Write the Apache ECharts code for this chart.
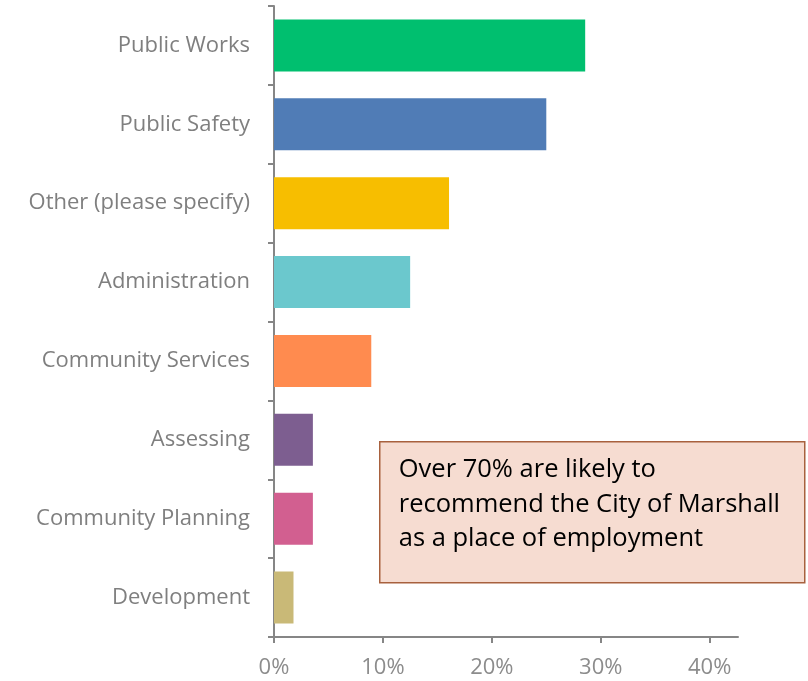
<!DOCTYPE html>
<html><head><meta charset="utf-8">
<script src="https://cdn.jsdelivr.net/npm/echarts@6/dist/echarts.min.js"></script>
<style>html,body{margin:0;padding:0;background:#fff}#c{width:808px;height:681px}</style>
</head><body><div id="c"></div>
<script>
const categories = ["Public Works","Public Safety","Other (please specify)","Administration","Community Services","Assessing","Community Planning","Development"];
const values = [28.57, 25.0, 16.07, 12.5, 8.93, 3.57, 3.57, 1.79];
const colors = ["#00BF6F","#507CB6","#F7BE00","#6BC8CD","#FF8B4F","#7D5E90","#D25F90","#C9B977"];
const xTicks = [0,10,20,30,40];
const note = "Over 70% are likely to\nrecommend the City of Marshall\nas a place of employment";

const chart = echarts.init(document.getElementById('c'));
const axisColor = '#868686';
const font = '"Open Sans", sans-serif';
chart.setOption({
  animation:false,
  grid:{left:274, top:6, right:70, bottom:44},
  xAxis:{type:'value', min:0, max:42.6, interval:10,
    axisLine:{show:true, lineStyle:{color:axisColor, width:2}},
    axisTick:{show:true, length:6, lineStyle:{color:axisColor, width:2}, customValues:xTicks},
    axisLabel:{customValues:xTicks, formatter:v=>v+'%', color:'#8c8c8c', fontSize:22, fontFamily:font, margin:20},
    splitLine:{show:false}},
  yAxis:{type:'category', inverse:true, data:categories,
    axisLine:{show:true, lineStyle:{color:axisColor, width:2}},
    axisTick:{show:true, length:6, lineStyle:{color:axisColor, width:2}},
    axisLabel:{color:'#7f7f7f', fontSize:22, fontFamily:font, margin:24}},
  series:[{type:'bar', barCategoryGap:'34%',
    data:values.map((v,i)=>({value:v, itemStyle:{color:colors[i]}}))}],
  graphic:[{type:'group', left:379, top:441, children:[
    {type:'rect', shape:{x:0,y:0,width:425,height:141}, style:{fill:'#F6DCD1', stroke:'#A8613E', lineWidth:1.5}},
    {type:'text', x:19, y:11, style:{text:note, fill:'#000', font:'25.5px "Open Sans", sans-serif', lineHeight:34.5}}
  ]}]
});
</script></body></html>
